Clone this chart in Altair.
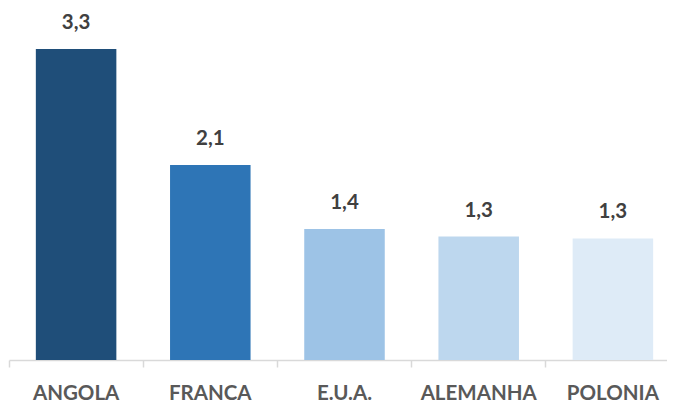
import altair as alt
import pandas as pd

countries = ["ANGOLA", "FRANCA", "E.U.A.", "ALEMANHA", "POLONIA"]
values = [3.3, 2.07, 1.39, 1.31, 1.29]
labels = ["3,3", "2,1", "1,4", "1,3", "1,3"]
colors = ["#1f4e79", "#2e75b6", "#9dc3e6", "#bdd7ee", "#deebf7"]

df = pd.DataFrame({"country": countries, "value": values, "label": labels})

FONT = "Lato"

x = alt.X("country:N", sort=countries, title=None,
          scale=alt.Scale(paddingInner=0, paddingOuter=0, range=[0, 671]),
          axis=alt.Axis(labelAngle=0, labelFont=FONT, labelFontSize=20.5,
                        labelFontWeight="bold", labelColor="#595959",
                        labelPadding=16, domainColor="#d9d9d9", tickColor="#d9d9d9",
                        tickSize=7, bandPosition=0, domainWidth=1.5, tickWidth=1.5))
y = alt.Y("value:Q", scale=alt.Scale(domain=[0, 3.735], nice=False, zero=True), axis=None)

bars = alt.Chart(df).mark_bar(width=alt.RelativeBandSize(0.6)).encode(
    x=x, y=y,
    color=alt.Color("country:N", scale=alt.Scale(domain=countries, range=colors), legend=None),
)

text = alt.Chart(df).mark_text(
    baseline="alphabetic", dy=-20, font=FONT, fontSize=20.5, fontWeight="bold", color="#404040"
).encode(x=alt.X("country:N", sort=countries), y=y, text="label:N")

chart = (bars + text).properties(
    width=658, height=352,
    padding={"left": 1, "top": 0, "right": 0, "bottom": 46},
    autosize=alt.AutoSizeParams(type="none"),
).configure_view(stroke=None)

chart.save("out.html", embed_options={"renderer": "svg", "actions": False})
